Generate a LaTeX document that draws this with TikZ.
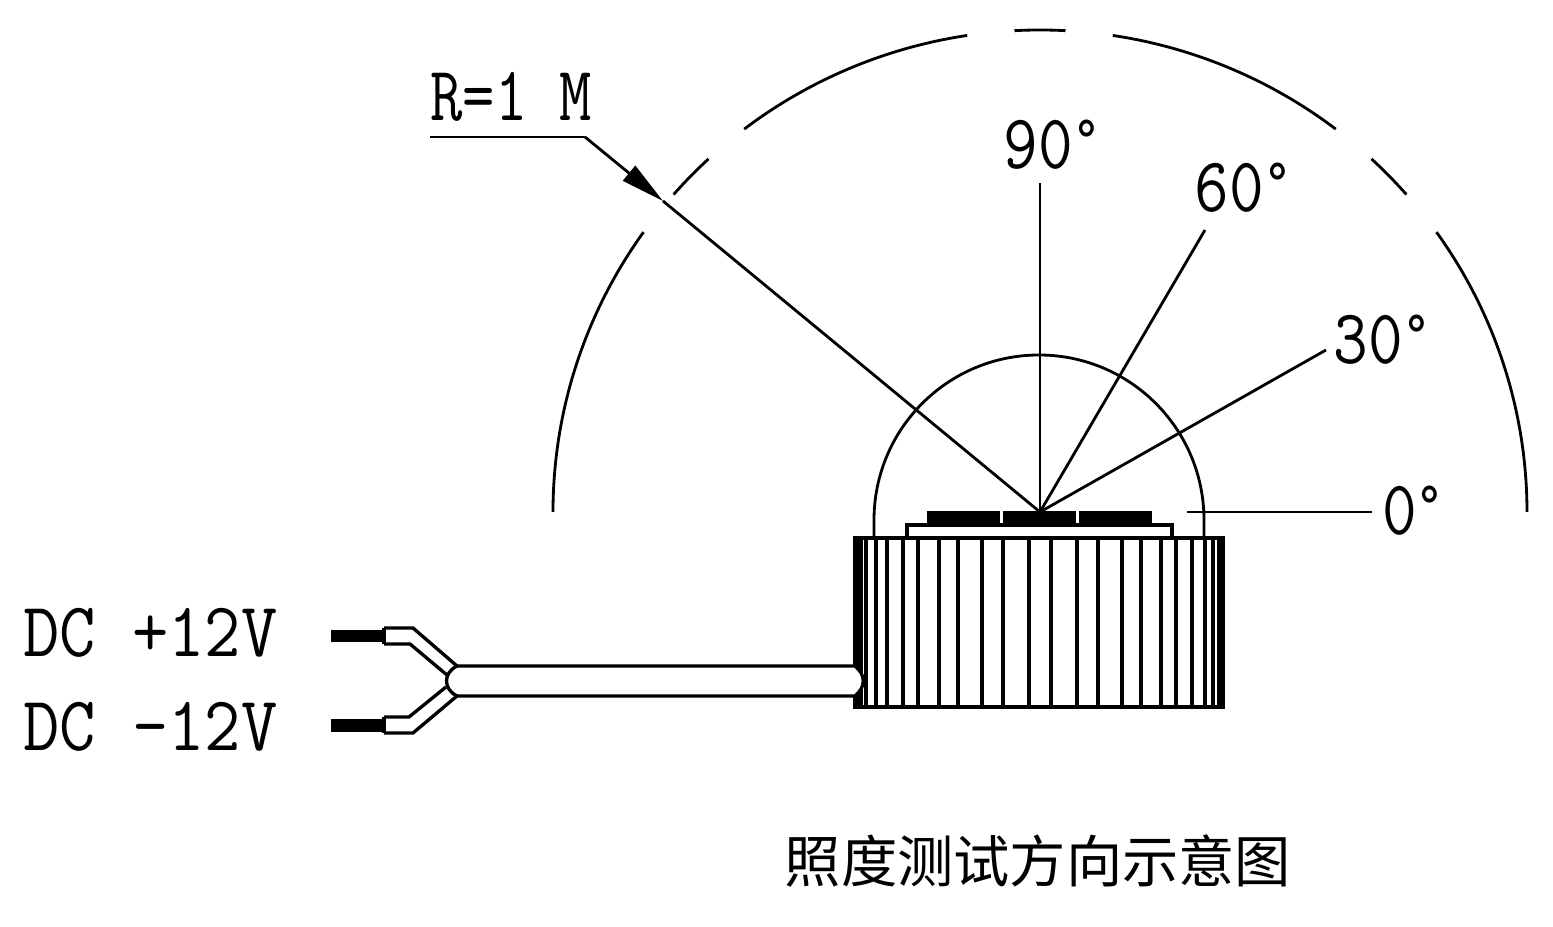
\documentclass[tikz,border=0pt]{standalone}
\usepackage{fontspec}
\newfontfamily\cjkfont{Noto Sans CJK SC}
\usetikzlibrary{arrows.meta,positioning,calc}
\newcommand{\degmark}{\raisebox{0.16em}{\fontsize{17}{18}\selectfont\textdegree}}

\begin{document}
\begin{tikzpicture}[
    x=0.01cm, y=0.01cm,
    thinline/.style={line width=0.8pt, black},
    ribline/.style={line width=0.95pt, black},
    blackpart/.style={fill=black, draw=none},
    arr/.style={-{Triangle[length=12.5pt, width=5.4pt]}, line width=0.8pt},
    angletag/.style={font=\fontsize{22}{24}\ttfamily, xscale=0.87, transform shape, inner sep=0pt},
    tag/.style={font=\fontsize{22}{24}\ttfamily, transform shape, inner sep=0pt, anchor=west}
  ]
  \useasboundingbox (0,0) rectangle (1553,927);

  \coordinate (O) at (1040,415);

  % ---- Outer circle, broken ----
  \foreach \from/\to in {0/35.5, 41.2/47.1, 52.6/81.4, 87/93, 98.6/127.4, 132.9/138.8, 144.5/180}
    \draw[thinline] ([shift={(\from:487 and 482)}]O) arc[start angle=\from, end angle=\to, x radius=487, y radius=482];

  % ---- Angle labels ----
  \node[angletag] (A90) at (1052,782) {90\degmark};
  \node[angletag] (A60) at (1243,739) {60\degmark};
  \node[angletag] (A30) at (1382,587) {30\degmark};
  \node[angletag] (A0) at (1413,416) {0\degmark};

  % ---- Rays ----
  \coordinate (E90) at (1040,744);
  \coordinate (E60) at (1205,697);
  \coordinate (E30) at (1326,577);
  \draw[thinline] (O) -- (E90);
  \draw[thinline] (O) -- (E60);
  \draw[thinline] (O) -- (E30);
  \coordinate (E0a) at (1187,415);
  \coordinate (E0b) at (1372,415);
  \draw[thinline] (E0a) -- (E0b);

  % ---- Radius leader ----
  \node[tag, xscale=0.81] (RL) at (430,830) {R=1 M};
  \coordinate (Ra) at (430,790);
  \coordinate (Rb) at (585,790);
  \coordinate (Rc) at (663,726);
  \draw[thinline] (Ra) -- (Rb);
  \draw[arr] (Rb) -- (Rc);
  \draw[thinline] (Rc) -- (O);

  % ---- Dome ----
  \draw[thinline] (874,389) -- (874,407) arc[start angle=180, end angle=0, radius=165] -- (1204,389);

  % ---- Chips and board ----
  \foreach \xa/\xb in {927/1000, 1003/1076, 1079/1152}
    \fill[blackpart] (\xa,402) rectangle (\xb,416);
  \draw[ribline] (907,389) -- (907,402) -- (1172,402) -- (1172,389);

  % ---- Body with ribs ----
  \draw[ribline] (855,389) rectangle (1223,220);
  \fill[blackpart] (854,389) rectangle (863,220);
  \fill[blackpart] (1217,389) rectangle (1224,220);
  \foreach \ribx in {866,876,887,903,918,939,958,982,1003,1029,1051,1077,1098,1122,1141,1161,1176,1192,1205,1213}
    \draw[ribline] (\ribx,389) -- (\ribx,220);

  % ---- Cable ----
  \fill[white] (850,261) -- (856,261) .. controls (866,252) and (866,240) .. (856,231) -- (850,231) -- cycle;
  \draw[ribline] (457,261) -- (855,261) .. controls (866,252) and (866,240) .. (855,231) -- (457,231);
  \draw[ribline] (457,261) .. controls (443,254) and (443,238) .. (457,231);

  % ---- Wires ----
  \draw[ribline] (384,299) -- (413,299) -- (457,261);
  \draw[ribline] (384,283) -- (410,283) -- (447,252);
  \draw[ribline] (384,194) -- (413,194) -- (457,231);
  \draw[ribline] (384,210) -- (409,210) -- (446,240);
  \draw[ribline] (384,283) -- (384,299);
  \draw[ribline] (384,194) -- (384,210);
  \fill[blackpart] (331,285) rectangle (384,297);
  \fill[blackpart] (331,195) rectangle (384,208);

  % ---- Terminal labels ----
  \node[tag, xscale=0.91] (DCp) at (23,294) {DC +12V};
  \node[tag, xscale=0.91] (DCm) at (23,200) {DC -12V};

  % ---- Caption ----
  \node[font=\fontsize{16}{18}\cjkfont, inner sep=0pt] (CAP) at (1038,66) {照度测试方向示意图};

\end{tikzpicture}
\end{document}
